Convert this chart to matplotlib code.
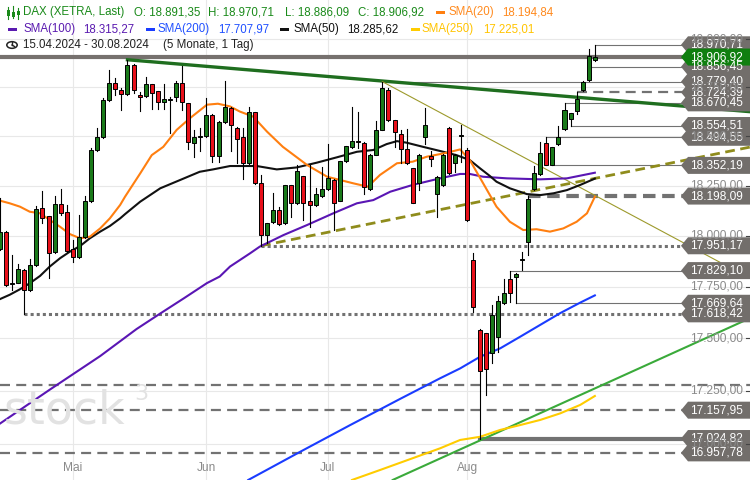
import numpy as np
import matplotlib
matplotlib.use("Agg")
import matplotlib.pyplot as plt
from matplotlib.patches import Rectangle, Polygon, Circle
from matplotlib.lines import Line2D

plt.rcParams['font.family'] = ['Liberation Sans', 'DejaVu Sans']

# DAX daily candles, 15.04.2024 - 30.08.2024 (index 0 = 15.04.)
opens = [17934, 18020, 17764, 17770, 17832, 17734, 17857, 18137, 18098, 17920,
         18160, 18118, 17934, 17894, 17994, 18174, 18430, 18494, 18685, 18771,
         18736, 18714, 18867, 18712, 18705, 18765, 18730, 18676, 18686, 18703,
         18775, 18670, 18466, 18496, 18500, 18609, 18400, 18571, 18645, 18543,
         18497, 18362, 18624, 18262, 18002, 18067, 18128, 18062, 18254, 18162,
         18298, 18174, 18151, 18200, 18232, 18279, 18175, 18373, 18446, 18474,
         18468, 18232, 18407, 18532, 18736, 18583, 18513, 18437, 18338, 18265,
         18498, 18400, 18207, 18254, 18541, 18362, 18499, 18430, 17881, 17542,
         17525, 17432, 17506, 17669, 17786, 17800, 17879, 17971, 18232, 18309,
         18467, 18354, 18460, 18536, 18590, 18630, 18736, 18790, 18891.35]
highs = [18190, 18022, 17905, 17862, 17835, 17885, 18150, 18222, 18100, 18199,
         18233, 18153, 17980, 18103, 18199, 18438, 18540, 18697, 18842, 18797,
         18745, 18892.92, 18870, 18728, 18802, 18768, 18732, 18765, 18700, 18782,
         18862, 18672, 18532, 18544, 18696, 18612, 18575, 18784, 18648, 18545,
         18544, 18647, 18626, 18304, 18062, 18212, 18142, 18254, 18256, 18354,
         18300, 18354, 18237, 18345, 18459, 18282, 18375, 18452, 18648, 18624,
         18470, 18408, 18579, 18779.40, 18748, 18585, 18532, 18537, 18340, 18408,
         18642, 18425, 18298, 18408, 18545, 18410, 18558, 18440, 17917, 17545,
         17527, 17661, 17704, 17786, 17829.10, 17815, 17922, 18198.09, 18349, 18470,
         18494.55, 18445, 18554, 18670.45, 18620, 18724.39, 18782, 18950, 18970.71]
lows = [17930, 17755, 17734, 17766, 17618.42, 17730, 17850, 18063, 17793, 17915,
        18103, 17922, 17873, 17890, 17990, 18170, 18425, 18490, 18680, 18709,
        18634, 18710, 18719, 18630, 18700, 18640, 18640, 18640, 18518, 18680,
        18634, 18436, 18396, 18426, 18495, 18367, 18367, 18565, 18426, 18362,
        18282, 18360, 18258, 17951.17, 17965, 18062, 18054, 18058, 18092, 18158,
        18079, 18046, 18148, 18195, 18228, 18029, 18172, 18370, 18440, 18442,
        18206, 18230, 18404, 18530, 18580, 18446, 18362, 18360, 18163, 18228,
        18459, 18348, 18095, 18250, 18310, 18320, 18370, 18075, 17629, 17024.82,
        17230, 17383, 17436, 17665, 17677, 17669.64, 17832, 17905, 18228, 18305,
        18352, 18352.19, 18455, 18530, 18554.51, 18615, 18730, 18785, 18886.09]
closes = [18020, 17760, 17768, 17835, 17734, 17857, 18132, 18087, 17917, 18160,
          18116, 17926, 17894, 17994, 18174, 18430, 18494, 18685, 18771, 18740,
          18714, 18867, 18736, 18700, 18765, 18720, 18676, 18688, 18690, 18775,
          18677, 18473, 18496, 18500, 18609, 18400, 18572, 18650, 18557, 18487,
          18366, 18624, 18262, 18002, 18062, 18128, 18059, 18254, 18162, 18324,
          18162, 18151, 18207, 18232, 18290, 18162, 18373, 18450, 18475, 18472,
          18245, 18405, 18532, 18748, 18583, 18523, 18434, 18362, 18165, 18405,
          18557, 18383, 18295, 18405, 18315, 18407, 18508, 18079, 17653, 17343,
          17354, 17612, 17680, 17718, 17721, 17812, 17884, 18183, 18315, 18416,
          18354, 18443, 18494, 18634, 18617, 18690, 18780, 18912, 18906.92]

# moving averages (index position, value)
sma20_x = [0, 1.6, 3.3, 4.9, 6.6, 8.2, 9.9, 11.5, 13.2, 14.8, 16.5, 18.1, 19.8, 20.6,
           23.1, 25, 26.9, 29.1, 31.3, 34.1, 35.9, 37.9, 39.5, 41.7, 44, 46.6, 50.6,
           53.9, 58.2, 60.6, 62.6, 65.4, 68, 70.3, 73.6, 75.8, 77.4, 79.6, 81.8, 84,
           86.2, 88.4, 90.6, 92.8, 95, 96.7, 98]
sma20 = [18175, 18162, 18145, 18120, 18112, 18079, 18045, 18009, 17988, 17996, 18037,
         18087, 18154, 18195, 18312, 18404, 18446, 18532, 18592, 18661, 18666, 18652,
         18626, 18600, 18523, 18446, 18354, 18295, 18262, 18245, 18304, 18363, 18371,
         18396, 18416, 18433, 18379, 18262, 18145, 18070, 18029, 18033, 18021, 18037,
         18070, 18112, 18194.84]
sma50_x = [0, 1.6, 3.3, 4.9, 6.6, 8.2, 9.9, 11.5, 13.2, 14.8, 16.5, 18.1, 19.8, 20.6,
           23.1, 26.4, 29.7, 32.9, 35.1, 37.9, 39.5, 42.3, 45.6, 48.9, 52.2, 55.5, 58.8,
           61.5, 63.7, 65.4, 67, 69.7, 72.5, 75.2, 77.4, 79.1, 80.7, 81.8, 84, 86.8, 89,
           91.2, 93.4, 95.6, 98]
sma50 = [17690, 17711, 17738, 17767, 17803, 17849, 17890, 17922, 17950, 17988, 18021,
         18049, 18087, 18108, 18170, 18237, 18279, 18320, 18332, 18349, 18349, 18349,
         18332, 18342, 18366, 18393, 18421, 18430, 18460, 18475, 18467, 18446, 18425,
         18404, 18379, 18337, 18299, 18270, 18237, 18208, 18203, 18212, 18228, 18254,
         18285.62]
sma100_x = [0, 8.2, 16.5, 22.5, 26.4, 30.3, 34.1, 36.2, 37.9, 41.2, 42.8, 46.7, 50.6,
            54.9, 58.8, 61.5, 64.3, 68, 72.5, 75.8, 77.4, 79.6, 83.5, 89, 93.4, 98]
sma100 = [17095, 17255, 17415, 17545, 17620, 17694, 17768, 17800, 17849, 17914, 17947,
          18004, 18054, 18112, 18162, 18178, 18220, 18254, 18287, 18309, 18309, 18295,
          18287, 18282, 18287, 18315.27]
sma200_x = [40.9, 49.4, 57.7, 65.9, 72.5, 75.8, 79.1, 82.4, 85.7, 89, 92.3, 95.6, 98]
sma200 = [16832, 16962, 17088, 17211, 17309, 17356, 17412, 17452, 17508, 17565, 17622,
          17673, 17707.97]
sma250_x = [58, 62.6, 72.5, 75.8, 79.1, 82.4, 85.7, 89, 92.3, 95.6, 98]
sma250 = [16832, 16878, 16979, 17018, 17033, 17065, 17088, 17112, 17143, 17183, 17225.01]

# trend lines (index, price)
res_x, res_y = [21, 123.6], [18892.92, 18625]
down_x, down_y = [63, 118.6], [18779.40, 17870]
sup_x, sup_y = [43, 123.6], [17951.17, 18445]
up_x, up_y = [64.7, 123.6], [16832, 17598]

# horizontal levels: value, start index, style
lvl_vals = [18970.71, 18856.45, 18779.40, 18724.39, 18670.45, 18494.55, 18554.51,
            18352.19, 18198.09, 17951.17, 17829.10, 17669.64, 17618.42, 17157.95,
            17024.82, 16957.78]
lvl_start = [98, 97, 63, 95, 93, 90, 94, 91, 87, 43, 84, 85, 4, 0, 79, 0]
lvl_style = ['solid', 'solid', 'solid', 'dash', 'solid', 'solid', 'solid', 'solid',
             'bigdash', 'dot', 'solid', 'solid', 'dot', 'dash', 'thick', 'dash']
extra_dash = 17277
last_price = 18906.92

grid_vals = [17000, 17250, 17500, 17750, 18000, 18250, 18500, 18750, 19000]
grid_labels = ['17.000,00', '17.250,00', '17.500,00', '17.750,00', '18.000,00',
               '18.250,00', '18.500,00', '18.750,00', '19.000,00']
month_idx = [12, 34, 54, 77]
month_names = ['Mai', 'Jun', 'Jul', 'Aug']

W, H = 750, 480
fig = plt.figure(figsize=(7.5, 4.8), dpi=100)
ax = fig.add_axes([0, 0, 1, 1])
ax.set_yscale('log')
ax.set_ylim(16831.8, 19205.8)
ax.set_xlim(0, 123.56)
ax.yaxis.set_major_locator(matplotlib.ticker.NullLocator())
ax.yaxis.set_minor_locator(matplotlib.ticker.NullLocator())
ax.xaxis.set_major_locator(matplotlib.ticker.NullLocator())
for s in ax.spines.values():
    s.set_visible(False)

def fx(x):
    return x / W

def fy(y):
    return 1 - y / H

def ypix(p):
    return H - ax.transData.transform((0, p))[1]

# grid
for g in grid_vals:
    ax.axhline(g, color='#e8e8e8', lw=0.8, zorder=0)
for m in month_idx:
    ax.axvline(m, color='#e8e8e8', lw=0.8, zorder=0)

# watermark
fig.text(fx(4), fy(411), 'stock', fontsize=33, color='#e2e2e2', va='center',
         family='DejaVu Sans', zorder=0)
fig.text(fx(134), fy(394), '3', fontsize=16, color='#e2e2e2', va='center',
         family='DejaVu Sans', zorder=0)

# horizontal levels
gray = '#727272'
for v, st, sty in zip(lvl_vals, lvl_start, lvl_style):
    xs = [st, 123.6]
    if sty == 'solid':
        ax.plot(xs, [v, v], color=gray, lw=0.8, zorder=2)
    elif sty == 'dash':
        ax.plot(xs, [v, v], color=gray, lw=1.6, dashes=(4.5, 2.8), zorder=2)
    elif sty == 'bigdash':
        ax.plot(xs, [v, v], color=gray, lw=3, dashes=(3, 1.6), zorder=2)
    elif sty == 'dot':
        ax.plot(xs, [v, v], color=gray, lw=2.2, dashes=(1, 1), zorder=2)
    elif sty == 'thick':
        ax.plot(xs, [v, v], color=gray, lw=3, zorder=2)
ax.plot([0, 123.6], [extra_dash, extra_dash], color=gray, lw=1.6, dashes=(4.5, 2.8), zorder=2)
ax.plot([0, 123.6], [last_price, last_price], color='#76716e', lw=3, zorder=2)

# trend lines
ax.plot(res_x, res_y, color='#1f6e1f', lw=2.4, zorder=3)
ax.plot(down_x, down_y, color='#9d9a2c', lw=0.8, zorder=3)
ax.plot(sup_x, sup_y, color='#8f8c1c', lw=2, dashes=(3.5, 2), zorder=3)
ax.plot(up_x, up_y, color='#3aaa3a', lw=1.5, zorder=3)

# moving averages
ax.plot(sma250_x, sma250, color='#ffcc00', lw=1.5, zorder=4)
ax.plot(sma200_x, sma200, color='#1a3cff', lw=1.5, zorder=4)
ax.plot(sma100_x, sma100, color='#5a16b4', lw=1.5, zorder=4)
ax.plot(sma50_x, sma50, color='#111111', lw=1.5, zorder=4)
ax.plot(sma20_x, sma20, color='#ff7f10', lw=1.5, zorder=4)

# candles
for i in range(len(opens)):
    o, h, l, c = opens[i], highs[i], lows[i], closes[i]
    ax.plot([i, i], [l, h], color='black', lw=0.8, zorder=5)
    col = '#1a7a1a' if c >= o else '#e8101a'
    ax.add_patch(Rectangle((i - 0.33, min(o, c)), 0.66, abs(c - o),
                           facecolor=col, edgecolor='black', lw=0.7, zorder=6))

# right axis labels
for g, lab in zip(grid_vals, grid_labels):
    yp = ypix(g)
    fig.text(fx(743), fy(yp), lab, fontsize=8.6, color='#8a8a8a', ha='right', va='center', zorder=7)
    fig.add_artist(Line2D([fx(746), fx(750)], [fy(yp), fy(yp)], color='#444444', lw=0.8))

def tag(v, face):
    yp = ypix(v)
    pts = [(681, yp), (688, yp - 8.5), (750, yp - 8.5), (750, yp + 8.5), (688, yp + 8.5)]
    fig.add_artist(Polygon([(fx(a), fy(b)) for a, b in pts], closed=True,
                           facecolor=face, edgecolor='none', transform=fig.transFigure))
    txt = f'{v:,.2f}'.replace(',', 'X').replace('.', ',').replace('X', '.')
    fig.text(fx(743), fy(yp), txt, fontsize=8.6, color='white', ha='right', va='center')

for v in lvl_vals:
    tag(v, '#726e6b')
tag(last_price, '#0f7f0f')

# month labels
for m, name in zip(month_idx, month_names):
    fig.text(fx(ax.transData.transform((m, 18000))[0]), fy(468), name, fontsize=8.6,
             color='#8a8a8a', ha='center', va='center')

# legend block
def bar(x, y, col):
    fig.add_artist(Rectangle((fx(x), fy(y + 1.5)), 9 / W, 3 / H, facecolor=col,
                             edgecolor='none', transform=fig.transFigure))

y1, y2, y3 = 12.5, 29, 45
fs = 8.3
gcol = '#1a8a1a'
for cx, top, bot, btop, bbot in [(8, 7, 19, 10, 16), (13, 6, 18, 12, 17), (18, 8, 19, 11, 15)]:
    fig.add_artist(Line2D([fx(cx), fx(cx)], [fy(top), fy(bot)], color=gcol, lw=0.8))
    fig.add_artist(Rectangle((fx(cx - 1.5), fy(bbot)), 3 / W, (bbot - btop) / H,
                             facecolor=gcol, edgecolor='none', transform=fig.transFigure))
line1 = [(23, 'DAX (XETRA, Last)', gcol), (134, 'O: 18.891,35', gcol),
         (208, 'H: 18.970,71', gcol), (285, 'L: 18.886,09', gcol),
         (358, 'C: 18.906,92', gcol), (448, 'SMA(20)', '#ff8a1e'),
         (502, '18.194,84', '#ff8a1e')]
for x, t, c in line1:
    fig.text(fx(x), fy(y1), t, fontsize=fs, color=c, va='center')
bar(436, y1, '#ff7f10')
line2 = [(23, 'SMA(100)', '#5a1ab0'), (83, '18.315,27', '#5a1ab0'),
         (158, 'SMA(200)', '#2050ff'), (218, '17.707,97', '#2050ff'),
         (293, 'SMA(50)', '#111111'), (347, '18.285,62', '#111111'),
         (422, 'SMA(250)', '#ffc400'), (483, '17.225,01', '#ffc400')]
for x, t, c in line2:
    fig.text(fx(x), fy(y2), t, fontsize=fs, color=c, va='center')
bar(8, y2, '#5a1ab0')
bar(146, y2, '#1a3cff')
bar(280, y2, '#111111')
bar(411, y2, '#ffcc00')
fig.add_artist(Circle((fx(12), fy(y3)), 5.2 / W, transform=fig.transFigure,
                      facecolor='none', edgecolor='#222222', lw=1.1))
fig.add_artist(Line2D([fx(12), fx(12)], [fy(y3), fy(y3 - 3.5)], color='#222222', lw=1))
fig.add_artist(Line2D([fx(12), fx(14.5)], [fy(y3), fy(y3 + 1.5)], color='#222222', lw=1))
fig.text(fx(23), fy(y3), '15.04.2024 - 30.08.2024', fontsize=fs, color='#222222', va='center')
fig.text(fx(163), fy(y3), '(5 Monate, 1 Tag)', fontsize=fs, color='#222222', va='center')

fig.savefig('out.png', dpi=100)
